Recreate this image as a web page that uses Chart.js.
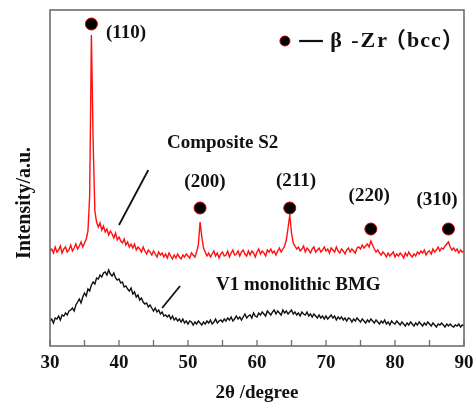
<!DOCTYPE html>
<html>
<head>
<meta charset="utf-8">
<script src="https://cdn.jsdelivr.net/npm/chart.js@4"></script>
<style>
  html, body { margin: 0; padding: 0; background: #fff; }
  #c { display: block; }
</style>
</head>
<body>
<canvas id="c" width="474" height="406"></canvas>
<script>
// ---- DATA (2θ in degrees, intensity in arbitrary units) ----
const twoTheta = [
  30,30.25,30.5,30.75, 31,31.25,31.5,31.75, 32,32.25,32.5,32.75, 33,33.25,33.5,33.75, 34,34.25,34.5,34.75,
  35,35.25,35.5,35.75, 36,36.25,36.5,36.75, 37,37.25,37.5,37.75, 38,38.25,38.5,38.75, 39,39.25,39.5,39.75,
  40,40.25,40.5,40.75, 41,41.25,41.5,41.75, 42,42.25,42.5,42.75, 43,43.25,43.5,43.75, 44,44.25,44.5,44.75,
  45,45.25,45.5,45.75, 46,46.25,46.5,46.75, 47,47.25,47.5,47.75, 48,48.25,48.5,48.75, 49,49.25,49.5,49.75,
  50,50.25,50.5,50.75, 51,51.25,51.5,51.75, 52,52.25,52.5,52.75, 53,53.25,53.5,53.75, 54,54.25,54.5,54.75,
  55,55.25,55.5,55.75, 56,56.25,56.5,56.75, 57,57.25,57.5,57.75, 58,58.25,58.5,58.75, 59,59.25,59.5,59.75,
  60,60.25,60.5,60.75, 61,61.25,61.5,61.75, 62,62.25,62.5,62.75, 63,63.25,63.5,63.75, 64,64.25,64.5,64.75,
  65,65.25,65.5,65.75, 66,66.25,66.5,66.75, 67,67.25,67.5,67.75, 68,68.25,68.5,68.75, 69,69.25,69.5,69.75,
  70,70.25,70.5,70.75, 71,71.25,71.5,71.75, 72,72.25,72.5,72.75, 73,73.25,73.5,73.75, 74,74.25,74.5,74.75,
  75,75.25,75.5,75.75, 76,76.25,76.5,76.75, 77,77.25,77.5,77.75, 78,78.25,78.5,78.75, 79,79.25,79.5,79.75,
  80,80.25,80.5,80.75, 81,81.25,81.5,81.75, 82,82.25,82.5,82.75, 83,83.25,83.5,83.75, 84,84.25,84.5,84.75,
  85,85.25,85.5,85.75, 86,86.25,86.5,86.75, 87,87.25,87.5,87.75, 88,88.25,88.5,88.75, 89,89.25,89.5,89.75,
  90
];

const compositeS2 = [
  95,97,93,99, 94,96,100,93, 97,99,94,96, 101,95,98,102, 97,100,104,99,
  103,107,115,150, 311,205,135,124, 119,123,116,120, 114,117,111,115, 112,108,113,106,
  109,105,103,107, 101,104,99,102, 98,102,96,99, 97,94,99,95, 92,96,94,91,
  95,92,89,94, 91,93,89,92, 88,93,90,87, 91,88,92,89, 87,91,89,92,
  90,88,93,91, 89,94,101,124, 109,98,94,90, 93,89,92,95, 90,93,88,92,
  94,90,91,95, 89,93,96,91, 92,95,90,94, 96,92,90,95, 91,95,93,89,
  94,97,92,95, 93,90,96,94, 97,93,95,91, 95,98,94,97, 100,106,118,131,
  113,103,100,97, 99,95,97,100, 94,98,96,93, 97,99,94,96, 98,94,96,99,
  95,97,93,98, 96,94,99,95, 93,97,95,92, 96,98,94,97, 95,93,98,99,
  97,101,98,100, 102,99,105,101, 97,94,96,93, 91,94,92,89, 93,90,92,94,
  89,92,90,93, 91,88,93,90, 94,91,89,92, 90,94,92,95, 93,96,91,94,
  95,92,97,94, 96,99,95,98, 97,100,102,104, 99,96,98,95, 97,93,96,94,
  95
];

const v1MonolithicBMG = [
  25,27,23,28, 27,30,26,31, 30,33,31,35, 36,38,35,41, 44,47,43,49,
  53,50,57,55, 61,64,62,68, 67,71,69,73, 74,71,76,72, 70,73,68,66,
  67,63,64,59, 60,57,55,58, 52,54,49,51, 46,48,44,42, 43,39,41,38,
  35,38,34,36, 32,34,30,31, 29,31,27,30, 26,28,25,27, 24,27,23,25,
  22,25,24,21, 24,22,25,23, 21,24,22,25, 23,26,22,24, 27,23,25,26,
  24,27,25,28, 26,29,25,27, 30,27,29,26, 29,32,28,30, 31,28,33,30,
  29,33,31,34, 32,30,35,33, 31,34,36,32, 35,33,31,36, 33,35,32,34,
  36,32,34,31, 33,30,34,32, 31,34,30,32, 29,32,30,28, 31,28,30,27,
  30,27,29,31, 28,30,26,29, 27,29,26,28, 25,28,27,24, 27,25,28,26,
  24,27,25,23, 26,24,27,25, 23,26,24,22, 25,23,26,22, 24,21,25,23,
  22,25,23,21, 24,22,20,23, 21,24,22,20, 23,21,24,22, 20,23,21,24,
  22,20,23,21, 19,22,21,23, 21,19,22,20, 22,20,19,21, 20,22,19,21,
  20
];

// β-Zr (bcc) reflections: marker positions and their Miller indices
const peakPositions = [36.0, 51.75, 64.75, 76.5, 87.75];
const peakMarkerIntensity = [322, 138, 138, 117, 117];
const peakIndices = ['(110)', '(200)', '(211)', '(220)', '(310)'];

const xTicks = [30, 40, 50, 60, 70, 80, 90];
const seriesNames = ['Composite S2', 'V1 monolithic BMG'];
const legendPhase = 'β -Zr';
const legendStructure = '（bcc）';

// ---- ANNOTATION PLACEMENT (data coordinates) ----
const annot = {
  peakLabelX: [38.1, 52.45, 65.65, 76.25, 86.1],
  peakLabelY: [313, 164, 165, 150, 146],
  peakLabelAlign: ['left', 'center', 'center', 'center', 'center'],
  compositeLabel: { x: 46.95, y: 203 },
  bmgLabel: { x: 54.05, y: 61 },
  compositeArrow: [[44.25, 176], [40.0, 121]],
  bmgArrow: [[48.85, 60], [46.25, 38]],
  legendMarker: { x: 64.05, y: 305 },
  legendDash: [[66.1, 305], [69.55, 305]],
  legendPhase: { x: 70.6, y: 305 },
  legendStructure: { x: 78.4, y: 305 }
};

const FONT = '"Liberation Serif", "Times New Roman", "Noto Sans CJK SC", serif';

const overlay = {
  id: 'overlay',
  afterDraw(chart) {
    const { ctx, chartArea: a, scales } = chart;
    const xs = scales.x, ys = scales.y;
    const px = v => xs.getPixelForValue(v);
    const py = v => ys.getPixelForValue(v);
    ctx.save();

    // frame
    ctx.strokeStyle = '#6e6e6e';
    ctx.lineWidth = 1.6;
    ctx.strokeRect(a.left, a.top, a.right - a.left, a.bottom - a.top);

    // inward ticks on bottom axis (major every 10, minor at 5)
    ctx.lineWidth = 1.3;
    for (let i = 0; i < xTicks.length; i++) {
      const t = xTicks[i];
      ctx.beginPath();
      ctx.moveTo(px(t), a.bottom);
      ctx.lineTo(px(t), a.bottom - 6);
      ctx.stroke();
      if (i < xTicks.length - 1) {
        const m = (t + xTicks[i + 1]) / 2;
        ctx.beginPath();
        ctx.moveTo(px(m), a.bottom);
        ctx.lineTo(px(m), a.bottom - 6);
        ctx.stroke();
      }
    }

    // text annotations
    ctx.fillStyle = '#111';
    ctx.textBaseline = 'middle';
    ctx.font = 'bold 19px ' + FONT;
    peakIndices.forEach((lbl, i) => {
      ctx.textAlign = annot.peakLabelAlign[i];
      ctx.fillText(lbl, px(annot.peakLabelX[i]), py(annot.peakLabelY[i]));
    });
    ctx.textAlign = 'left';
    ctx.fillText(seriesNames[0], px(annot.compositeLabel.x), py(annot.compositeLabel.y));
    ctx.fillText(seriesNames[1], px(annot.bmgLabel.x), py(annot.bmgLabel.y));

    // arrows (plain lines)
    ctx.strokeStyle = '#111';
    ctx.lineWidth = 1.8;
    [annot.compositeArrow, annot.bmgArrow].forEach(seg => {
      ctx.beginPath();
      ctx.moveTo(px(seg[0][0]), py(seg[0][1]));
      ctx.lineTo(px(seg[1][0]), py(seg[1][1]));
      ctx.stroke();
    });

    // legend key
    ctx.beginPath();
    ctx.arc(px(annot.legendMarker.x), py(annot.legendMarker.y), 5, 0, Math.PI * 2);
    ctx.fillStyle = '#000';
    ctx.fill();
    ctx.strokeStyle = '#c00000';
    ctx.lineWidth = 1;
    ctx.stroke();
    ctx.strokeStyle = '#111';
    ctx.lineWidth = 2.2;
    ctx.beginPath();
    ctx.moveTo(px(annot.legendDash[0][0]), py(annot.legendDash[0][1]));
    ctx.lineTo(px(annot.legendDash[1][0]), py(annot.legendDash[1][1]));
    ctx.stroke();
    ctx.fillStyle = '#111';
    ctx.textAlign = 'left';
    ctx.font = 'bold 22px ' + FONT;
    ctx.letterSpacing = '2px';
    ctx.fillText(legendPhase, px(annot.legendPhase.x), py(annot.legendPhase.y));
    ctx.font = 'bold 22px ' + FONT;
    ctx.letterSpacing = '1px';
    ctx.fillText(legendStructure, px(annot.legendStructure.x), py(annot.legendStructure.y));
    ctx.letterSpacing = '0px';

    ctx.restore();
  }
};

const toXY = arr => arr.map((v, i) => ({ x: twoTheta[i], y: v }));

new Chart(document.getElementById('c'), {
  type: 'line',
  data: {
    datasets: [
      {
        type: 'scatter',
        label: 'β-Zr (bcc)',
        data: peakPositions.map((p, i) => ({ x: p, y: peakMarkerIntensity[i] })),
        pointRadius: 6,
        pointBackgroundColor: '#000',
        pointBorderColor: '#c00000',
        pointBorderWidth: 1,
        order: 0
      },
      {
        label: seriesNames[0],
        data: toXY(compositeS2),
        borderColor: '#ff1010',
        borderWidth: 1.4,
        pointRadius: 0,
        tension: 0,
        order: 1
      },
      {
        label: seriesNames[1],
        data: toXY(v1MonolithicBMG),
        borderColor: '#111',
        borderWidth: 1.4,
        pointRadius: 0,
        tension: 0,
        order: 2
      }
    ]
  },
  options: {
    responsive: false,
    animation: false,
    devicePixelRatio: 1,
    layout: { padding: { left: 50, right: 10, top: 10, bottom: 0 } },
    plugins: { legend: { display: false }, tooltip: { enabled: false } },
    scales: {
      x: {
        type: 'linear',
        min: 30, max: 90,
        afterBuildTicks: s => { s.ticks = xTicks.map(v => ({ value: v })); },
        afterFit: s => { s.height = 60; s.paddingLeft = 0; s.paddingRight = 0; },
        grid: { display: false, drawTicks: false },
        border: { display: false },
        ticks: {
          color: '#111',
          padding: 6,
          font: { family: FONT, size: 19, weight: 'bold' }
        },
        title: {
          display: true,
          text: '2θ /degree',
          color: '#111',
          padding: { top: 7, bottom: 1.6 },
          font: { family: FONT, size: 19, weight: 'bold' }
        }
      },
      y: {
        display: false,
        min: 0, max: 336
      }
    }
  },
  plugins: [overlay, {
    id: 'yTitle',
    afterDraw(chart) {
      const { ctx } = chart;
      ctx.save();
      ctx.translate(25, 203);
      ctx.rotate(-Math.PI / 2);
      ctx.fillStyle = '#111';
      ctx.font = 'bold 20px ' + FONT;
      ctx.textAlign = 'center';
      ctx.textBaseline = 'middle';
      ctx.fillText('Intensity/a.u.', 0, 0);
      ctx.restore();
    }
  }]
});
</script>
</body>
</html>
